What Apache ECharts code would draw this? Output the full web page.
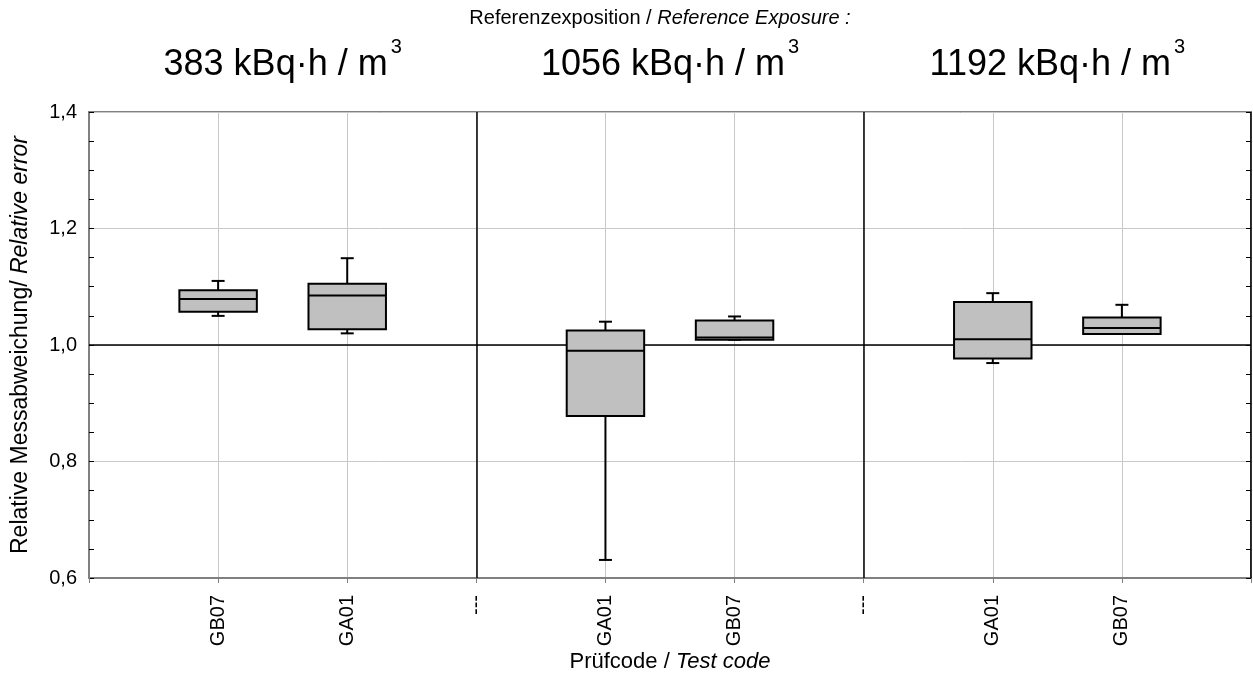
<!DOCTYPE html>
<html>
<head>
<meta charset="utf-8">
<script src="https://cdn.jsdelivr.net/npm/echarts@6/dist/echarts.min.js"></script>
<style>html,body{margin:0;padding:0;background:#fff}#c{width:1253px;height:673px}</style>
</head>
<body>
<div id="c"></div>
<script>
// ---- data ----
const categories = ['', 'GB07', 'GA01', '---', 'GA01', 'GB07', '---', 'GA01', 'GB07', ''];
const boxPositions = [1, 2, 4, 5, 7, 8];
const boxMin    = [1.050, 1.020, 0.631, 1.009, 0.969, 1.019];
const boxQ1     = [1.057, 1.027, 0.878, 1.009, 0.977, 1.019];
const boxMedian = [1.079, 1.085, 0.990, 1.013, 1.010, 1.029];
const boxQ3     = [1.094, 1.105, 1.025, 1.042, 1.074, 1.047];
const boxMax    = [1.110, 1.149, 1.040, 1.049, 1.089, 1.069];
const exposures = ['383', '1056', '1192'];
const panelStart = [0, 3, 6];
const panelEnd = [3, 6, 9];
const separators = [3, 6, 9];
const referenceValue = 1.0;
const yMin = 0.6, yMax = 1.4, yInterval = 0.2;

const FONT = 'Liberation Sans, Arial, sans-serif';
const boxData = boxPositions.map((p, i) => [p, boxMin[i], boxQ1[i], boxMedian[i], boxQ3[i], boxMax[i]]);

const chart = echarts.init(document.getElementById('c'), null, {renderer: 'canvas'});
const yCommon = {
  type: 'value', min: yMin, max: yMax, interval: yInterval,
  axisTick: {show: true, inside: true, length: 5, lineStyle: {color: '#000', width: 1}},
  minorTick: {show: true, splitNumber: 4, length: 5, lineStyle: {color: '#000', width: 1}}
};
chart.setOption({
  animation: false,
  backgroundColor: '#fff',
  textStyle: {fontFamily: FONT},
  grid: {left: 89, right: 2, top: 112, bottom: 95, containLabel: false, outerBoundsMode: 'none',
    show: true, borderColor: '#808080', borderWidth: 2, backgroundColor: 'transparent'},
  graphic: [{
    type: 'text', x: 660, y: 8, z: 10,
    style: {
      text: '{n|Referenzexposition / }{i|Reference Exposure :}',
      align: 'center', verticalAlign: 'top',
      rich: {
        n: {fontSize: 20, fontFamily: FONT, fill: '#000'},
        i: {fontSize: 20, fontFamily: FONT, fontStyle: 'italic', fill: '#000'}
      }
    }
  }],
  xAxis: {
    type: 'category', data: categories, boundaryGap: false,
    name: '{n|Prüfcode / }{i|Test code}', nameLocation: 'middle', nameGap: 73, nameMoveOverlap: false,
    nameTextStyle: {rich: {
      n: {fontSize: 22, fontFamily: FONT, color: '#000'},
      i: {fontSize: 22, fontFamily: FONT, fontStyle: 'italic', color: '#000'}
    }},
    axisLine: {show: true, lineStyle: {color: '#808080', width: 2}},
    axisTick: {show: true, interval: 0, length: 5, lineStyle: {color: '#808080', width: 1}},
    axisLabel: {interval: 0, rotate: 90, margin: 17, fontSize: 20, color: '#000', fontFamily: FONT},
    splitLine: {show: true, interval: 0, lineStyle: {color: '#c8c8c8', width: 1}}
  },
  yAxis: [
    Object.assign({}, yCommon, {
      position: 'left',
      name: '{n|Relative Messabweichung/ }{i|Relative error}', nameLocation: 'middle', nameGap: 57, nameRotate: 90,
      nameMoveOverlap: false,
      nameTextStyle: {rich: {
        n: {fontSize: 23, fontFamily: FONT, color: '#000'},
        i: {fontSize: 23, fontFamily: FONT, fontStyle: 'italic', color: '#000'}
      }},
      axisLine: {show: true, lineStyle: {color: '#808080', width: 2}},
      axisLabel: {margin: 12, fontSize: 20, color: '#000', fontFamily: FONT,
        formatter: v => v.toFixed(1).replace('.', ',')},
      splitLine: {show: true, lineStyle: {color: '#c8c8c8', width: 1}}
    }),
    Object.assign({}, yCommon, {
      position: 'right',
      axisLine: {show: false},
      axisLabel: {show: false},
      splitLine: {show: false}
    })
  ],
  series: [
    {
      type: 'line', data: [], xAxisIndex: 0, yAxisIndex: 0, silent: true,
      markLine: {
        silent: true, symbol: 'none', z: 1, animation: false,
        label: {show: false},
        lineStyle: {color: '#000', width: 1.5, type: 'solid'},
        data: [{yAxis: referenceValue}].concat(separators.map(s => ({xAxis: s})))
      }
    },
    {
      type: 'custom', z: 3,
      data: boxData,
      encode: {x: 0, y: [1, 2, 3, 4, 5]},
      renderItem: function (params, api) {
        const x = api.value(0);
        const pMin = api.coord([x, api.value(1)]);
        const pQ1 = api.coord([x, api.value(2)]);
        const pMed = api.coord([x, api.value(3)]);
        const pQ3 = api.coord([x, api.value(4)]);
        const pMax = api.coord([x, api.value(5)]);
        const band = api.size([1, 0])[0];
        const hw = band * 0.3;
        const cw = 6.5;
        const cx = pMed[0];
        const ls = {stroke: '#000', lineWidth: 2};
        return {
          type: 'group',
          children: [
            {type: 'line', shape: {x1: cx, y1: pQ3[1], x2: cx, y2: pMax[1]}, style: ls},
            {type: 'line', shape: {x1: cx - cw, y1: pMax[1], x2: cx + cw, y2: pMax[1]}, style: ls},
            {type: 'line', shape: {x1: cx, y1: pQ1[1], x2: cx, y2: pMin[1]}, style: ls},
            {type: 'line', shape: {x1: cx - cw, y1: pMin[1], x2: cx + cw, y2: pMin[1]}, style: ls},
            {type: 'rect', shape: {x: cx - hw, y: pQ3[1], width: 2 * hw, height: pQ1[1] - pQ3[1]},
              style: {fill: '#c0c0c0', stroke: '#000', lineWidth: 2}},
            {type: 'line', shape: {x1: cx - hw, y1: pMed[1], x2: cx + hw, y2: pMed[1]}, style: ls}
          ]
        };
      },
      markArea: {
        silent: true,
        itemStyle: {color: 'rgba(0,0,0,0)'},
        label: {
          show: true, position: 'top', distance: 29,
          formatter: p => '{a|' + p.name + ' kBq·h / m}{s|3}',
          rich: {
            a: {fontSize: 36, lineHeight: 46, verticalAlign: 'bottom', fontFamily: FONT, color: '#000'},
            s: {fontSize: 20, lineHeight: 20, verticalAlign: 'top', fontFamily: FONT, color: '#000', padding: [0, 0, 0, 3]}
          }
        },
        data: exposures.map((e, i) => [{name: e, xAxis: panelStart[i]}, {xAxis: panelEnd[i]}])
      }
    }
  ]
});
</script>
</body>
</html>
